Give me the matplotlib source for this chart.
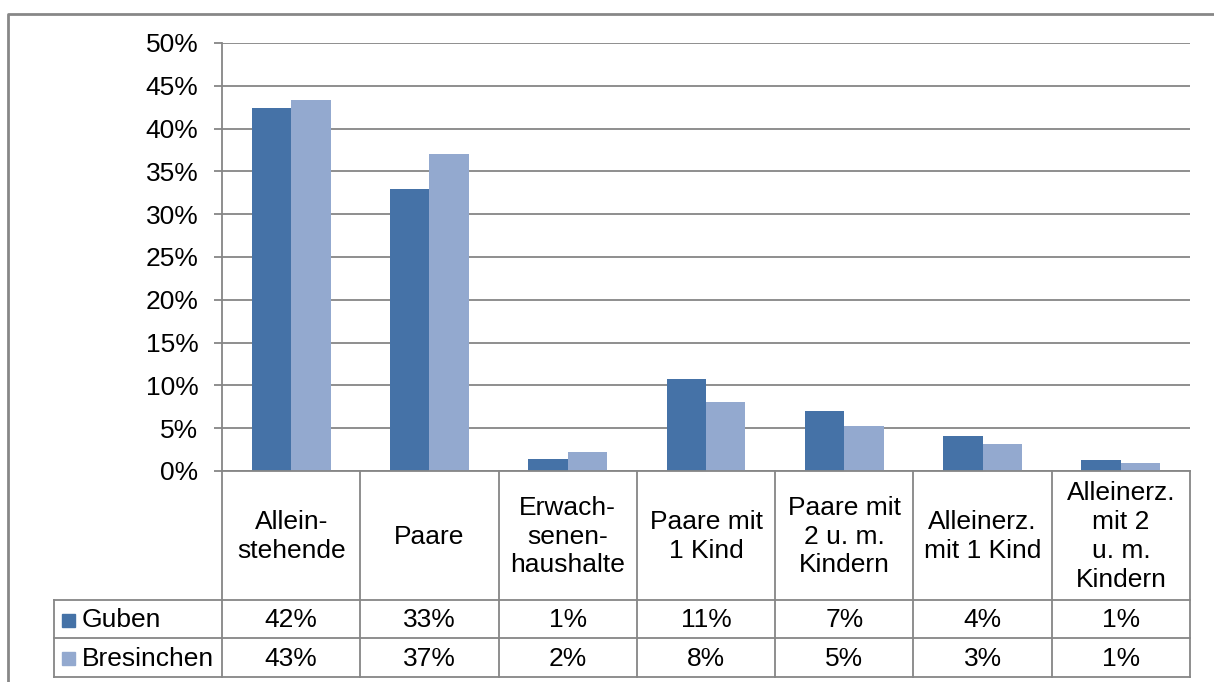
import matplotlib
matplotlib.use("Agg")
import matplotlib.pyplot as plt
from matplotlib.patches import Rectangle
from matplotlib.lines import Line2D

categories = ["Allein-\nstehende", "Paare", "Erwach-\nsenen-\nhaushalte", "Paare mit\n1 Kind",
              "Paare mit\n2 u. m.\nKindern", "Alleinerz.\nmit 1 Kind", "Alleinerz.\nmit 2\nu. m.\nKindern"]
series_names = ["Guben", "Bresinchen"]
guben = [42.4, 32.9, 1.4, 10.7, 7.0, 4.1, 1.3]
bresinchen = [43.3, 37.0, 2.2, 8.1, 5.3, 3.2, 0.9]
yticks = [0, 5, 10, 15, 20, 25, 30, 35, 40, 45, 50]
colors = ["#4572A7", "#93A9CF"]

W, H = 1214, 682
fig = plt.figure(figsize=(W / 100, H / 100), dpi=100)
plt.rcParams['font.family'] = ['Liberation Sans', 'DejaVu Sans']
FS = 19
GRID = "#868686"

# plot area in pixel coords
L, R, T, B = 222, 1190, 43, 471
ax = fig.add_axes([L / W, (H - B) / H, (R - L) / W, (B - T) / H])
n = len(categories)
x = list(range(n))
bw = 0.285
ax.bar([i - bw / 2 for i in x], guben, width=bw, color=colors[0], zorder=3)
ax.bar([i + bw / 2 for i in x], bresinchen, width=bw, color=colors[1], zorder=3)
ax.set_xlim(-0.5, n - 0.5)
ax.set_ylim(0, 50)
ax.set_yticks(yticks)
ax.set_yticklabels([f"{t}%" for t in yticks], fontsize=FS)
ax.tick_params(axis='y', length=5.5, width=1.3, color=GRID, pad=11.5)
ax.set_xticks([])
for s in ["top", "right", "bottom"]:
    ax.spines[s].set_visible(False)
ax.spines["left"].set_color(GRID)
ax.spines["left"].set_linewidth(1.3)
ax.grid(axis='y', color=GRID, linewidth=1.3, zorder=0)
ax.set_axisbelow(True)

# table in figure pixel coordinates
def fx(px):
    return px / W

def fy(py):
    return (H - py) / H

def hline(x0, x1, y):
    fig.add_artist(Line2D([fx(x0), fx(x1)], [fy(y), fy(y)], color=GRID, lw=1.3))

def vline(xp, y0, y1):
    fig.add_artist(Line2D([fx(xp), fx(xp)], [fy(y0), fy(y1)], color=GRID, lw=1.3))

cw = (R - L) / n
rows = [B, 600, 638, 677]
legend_left = 54
hline(L, R, B)
for yp in rows[1:]:
    hline(legend_left, R, yp)
for i in range(n + 1):
    vline(L + i * cw, B, rows[-1])
vline(legend_left, rows[1], rows[-1])

for i, c in enumerate(categories):
    fig.text(fx(L + (i + 0.5) * cw), fy((B + 600) / 2 + 1), c, ha='center', va='center',
             fontsize=FS, linespacing=1.25)

for r, (name, vals) in enumerate(zip(series_names, [guben, bresinchen])):
    yc = (rows[r + 1] + rows[r + 2]) / 2 + 1
    fig.add_artist(Rectangle((fx(62), fy(yc + 6.5)), 13 / W, 13 / H, color=colors[r],
                             transform=fig.transFigure))
    fig.text(fx(82), fy(yc), name, ha='left', va='center', fontsize=FS)
    for i, v in enumerate(vals):
        fig.text(fx(L + (i + 0.5) * cw), fy(yc), f"{round(v):d}%", ha='center', va='center',
                 fontsize=FS)

# outer chart border
fig.add_artist(Line2D([fx(8), fx(8), fx(W + 5)], [fy(H + 5), fy(13.5), fy(13.5)],
                      color="#878787", lw=2))

fig.savefig("out.png", dpi=100)
